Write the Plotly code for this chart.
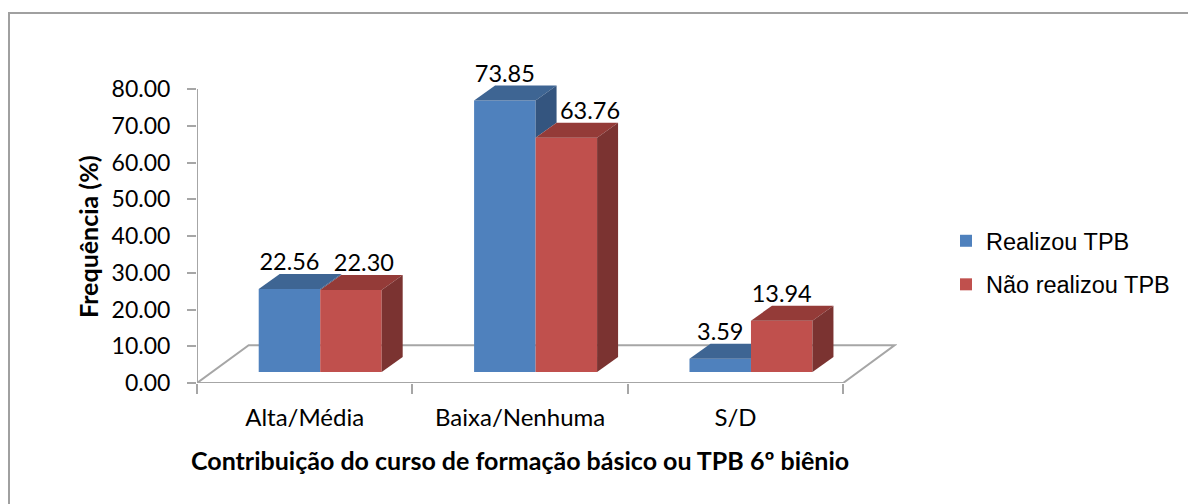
import plotly.graph_objects as go

categories = ["Alta/Média", "Baixa/Nenhuma", "S/D"]
realizou = [22.56, 73.85, 3.59]
nao_realizou = [22.30, 63.76, 13.94]
label_realizou = ["22.56", "73.85", "3.59"]
label_nao = ["22.30", "63.76", "13.94"]
y_ticks = [0, 10, 20, 30, 40, 50, 60, 70, 80]
y_tick_labels = ["0.00", "10.00", "20.00", "30.00", "40.00", "50.00", "60.00", "70.00", "80.00"]

# 3D projection constants (data units)
BASE = 3.0
W = 0.2855
SHIFT = 0.072
DX = 0.0975
DY = 4.08
FLOOR_DX = 0.24
FLOOR_DY = 10.3
GRAY = "#A6A6A6"
SANS = "Lato"
X_IDX = list(range(len(categories)))

# plot-area frame in pixels
PLOT_L, PLOT_W, PLOT_B, PLOT_H = 197, 700, 383, 324
Y_MAX = 88.163


def fx(px):
    return (px - PLOT_L) / PLOT_W


def fy(py):
    return (PLOT_B - py) / PLOT_H


BLUE, BLUE_TOP, BLUE_SIDE = "#4F81BD", "#3E6593", "#34557F"
RED, RED_TOP, RED_SIDE = "#C0504D", "#943B38", "#7B3331"

fig = go.Figure()


def poly(xs, ys, color):
    fig.add_trace(go.Scatter(x=xs + xs[:1], y=ys + ys[:1], mode="lines", fill="toself",
                             fillcolor=color, line=dict(width=0, color=color),
                             hoverinfo="skip", showlegend=False, cliponaxis=False))


for name, vals, color, off, grp in [("Realizou TPB", realizou, BLUE, SHIFT - W, "a"),
                                    ("Não realizou TPB", nao_realizou, RED, SHIFT, "b")]:
    fig.add_trace(go.Bar(x=X_IDX, y=vals, base=BASE, width=W, offset=off, name=name,
                         marker=dict(color=color, line=dict(width=0)),
                         legendgroup=grp, cliponaxis=False))

for i in X_IDX:
    vb, vr = realizou[i], nao_realizou[i]
    x0, x1, x2 = i + SHIFT - W, i + SHIFT, i + SHIFT + W
    tb, tr = vb + BASE, vr + BASE
    # blue top and side: only the part not hidden by the red bar in front
    if vb >= vr:
        poly([x0, x1, x1 + DX, x0 + DX], [tb, tb, tb + DY, tb + DY], BLUE_TOP)
        poly([x1, x1 + DX, x1 + DX, x1], [tb, tb + DY, tr + DY, tr], BLUE_SIDE)
    else:
        poly([x0, x1, x1, x0 + DX], [tb, tb, tb + DY, tb + DY], BLUE_TOP)
    poly([x1, x2, x2 + DX, x1 + DX], [tr, tr, tr + DY, tr + DY], RED_TOP)
    poly([x2, x2 + DX, x2 + DX, x2], [tr, tr + DY, BASE + DY, BASE], RED_SIDE)

# data labels
shift_r = [0.0, 0.0, 0.0]
shift_n = [0.06, 0.11, 0.0]
LABEL_UP = 2.7
fig.add_trace(go.Scatter(
    x=[i + SHIFT - W / 2 + s for i, s in zip(X_IDX, shift_r)],
    y=[v + BASE + DY + LABEL_UP for v in realizou],
    mode="text", text=label_realizou, textposition="middle center",
    textfont=dict(family=SANS, size=23.5, color="#000000"),
    hoverinfo="skip", showlegend=False, cliponaxis=False))
fig.add_trace(go.Scatter(
    x=[i + SHIFT + W / 2 + s for i, s in zip(X_IDX, shift_n)],
    y=[v + BASE + DY + LABEL_UP for v in nao_realizou],
    mode="text", text=label_nao, textposition="middle center",
    textfont=dict(family=SANS, size=23.5, color="#000000"),
    hoverinfo="skip", showlegend=False, cliponaxis=False))

# floor outline plus the value-axis line
floor_path = (f"M -0.5 80 L -0.5 0 L {-0.5 + FLOOR_DX} {FLOOR_DY} "
              f"L {2.5 + FLOOR_DX} {FLOOR_DY} L 2.5 0 L -0.5 0")

fig.update_layout(
    width=1188, height=504, autosize=False,
    margin=dict(l=PLOT_L, r=1188 - PLOT_L - PLOT_W, t=PLOT_B - PLOT_H, b=504 - PLOT_B, pad=0, autoexpand=False),
    paper_bgcolor="white", plot_bgcolor="white",
    barmode="overlay",
    font=dict(family=SANS, color="#000000"),
    xaxis=dict(range=[-0.5, 2.5 + FLOOR_DX + 0.01], tickmode="array", tickvals=X_IDX,
               ticktext=categories, ticks="", showline=False, showgrid=False, zeroline=False,
               automargin=False,
               tickfont=dict(family=SANS, size=24, color="#000000"), ticklabelstandoff=18,
               minor=dict(tickmode="array", tickvals=[-0.5, 0.5, 1.5, 2.5], ticks="outside",
                          ticklen=10, tickwidth=2, tickcolor=GRAY, showgrid=False)),
    yaxis=dict(range=[0, Y_MAX], tickmode="array", tickvals=y_ticks, ticktext=y_tick_labels,
               ticks="outside", ticklen=9, tickwidth=2, tickcolor=GRAY, automargin=False,
               showline=False, showgrid=False, zeroline=False,
               tickfont=dict(family=SANS, size=23, color="#000000"), ticklabelstandoff=12),
    legend=dict(x=fx(946), xanchor="left", y=fy(219),
                yanchor="top", traceorder="grouped", tracegroupgap=10,
                font=dict(family="Liberation Sans", size=23.5, color="#000000"),
                bgcolor="rgba(0,0,0,0)"),
    shapes=[
        dict(type="path", path=floor_path, xref="x", yref="y", layer="below",
             line=dict(color=GRAY, width=2)),
        dict(type="line", xref="paper", yref="paper", layer="below",
             x0=fx(8), x1=fx(1188), y0=fy(13), y1=fy(13),
             line=dict(color="#808080", width=1.5)),
        dict(type="line", xref="paper", yref="paper", layer="below",
             x0=fx(9), x1=fx(9), y0=fy(13), y1=fy(504),
             line=dict(color="#A0A0A0", width=2)),
    ],
    annotations=[
        dict(text="<b>Contribuição do curso de formação básico ou TPB 6º biênio</b>",
             xref="x", yref="paper", x=1.0, y=fy(460), showarrow=False, xanchor="center",
             yanchor="middle", font=dict(family=SANS, size=25, color="#000000")),
        dict(text="<b>Frequência (%)</b>", xref="paper", yref="paper", x=fx(88), y=fy(237),
             textangle=-90, showarrow=False, xanchor="center", yanchor="middle",
             font=dict(family=SANS, size=25, color="#000000")),
    ],
)

fig.write_html("out.html", config={"displayModeBar": False},
               post_script="document.body.style.margin='0';document.body.style.overflow='hidden';")
